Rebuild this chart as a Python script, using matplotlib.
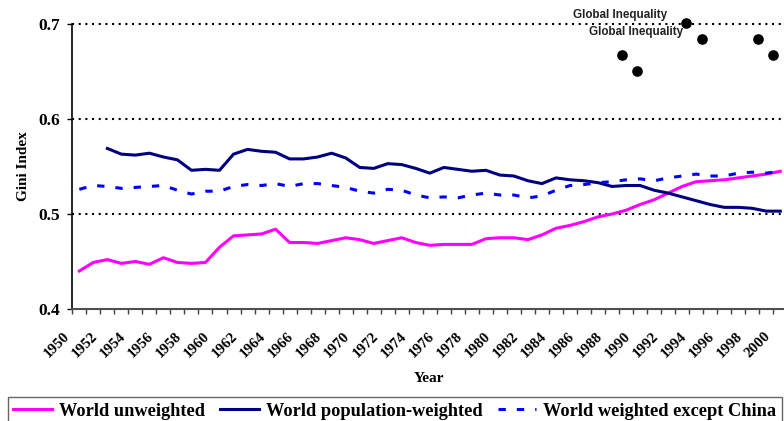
import matplotlib
matplotlib.use("Agg")
import matplotlib.pyplot as plt
import numpy as np

years = list(range(1950, 2001))

world_unweighted = [
    0.440, 0.449, 0.452, 0.448, 0.450, 0.447, 0.454, 0.449, 0.448, 0.449,
    0.465, 0.477, 0.478, 0.479, 0.484, 0.470, 0.470, 0.469, 0.472, 0.475,
    0.473, 0.469, 0.472, 0.475, 0.470, 0.467, 0.468, 0.468, 0.468, 0.474,
    0.475, 0.475, 0.473, 0.478, 0.485, 0.488, 0.492, 0.497, 0.500, 0.504,
    0.510, 0.515, 0.522, 0.529, 0.534, 0.535, 0.536, 0.538, 0.540, 0.542,
    0.545,
]

# no data before 1952
world_pop_weighted = [
    None, None, 0.569, 0.563, 0.562, 0.564, 0.560, 0.557, 0.546, 0.547,
    0.546, 0.563, 0.568, 0.566, 0.565, 0.558, 0.558, 0.560, 0.564, 0.559,
    0.549, 0.548, 0.553, 0.552, 0.548, 0.543, 0.549, 0.547, 0.545, 0.546,
    0.541, 0.540, 0.535, 0.532, 0.538, 0.536, 0.535, 0.533, 0.529, 0.530,
    0.530, 0.525, 0.522, 0.518, 0.514, 0.510, 0.507, 0.507, 0.506, 0.503,
    0.503,
]

world_except_china = [
    0.526, 0.530, 0.529, 0.527, 0.528, 0.529, 0.530, 0.525, 0.521, 0.524,
    0.524, 0.529, 0.531, 0.530, 0.532, 0.529, 0.532, 0.532, 0.530, 0.528,
    0.524, 0.522, 0.526, 0.525, 0.520, 0.517, 0.518, 0.517, 0.520, 0.522,
    0.520, 0.520, 0.517, 0.519, 0.525, 0.530, 0.531, 0.533, 0.534, 0.536,
    0.537, 0.535, 0.538, 0.540, 0.542, 0.540, 0.540, 0.543, 0.544, 0.543,
    0.545,
]

# two "Global Inequality" point series (secondary-axis style positions)
global_a_x = [1988.7, 1993.3, 1998.4]
global_a_y = [0.667, 0.701, 0.684]
global_b_x = [1989.8, 1994.4, 1999.5]
global_b_y = [0.651, 0.684, 0.667]

yticks = [0.4, 0.5, 0.6, 0.7]

serif = "Liberation Serif"
sans = "Liberation Sans"

fig = plt.figure(figsize=(7.84, 4.21), dpi=100)
ax = fig.add_axes([72.3 / 784, 112 / 421, 715 / 784, 285 / 421])

pos = np.arange(len(years))

def to_arr(vals):
    return np.array([np.nan if v is None else v for v in vals], dtype=float)

ax.plot(pos, to_arr(world_unweighted), color="#FF00FF", lw=2.2,
        label="World unweighted", solid_joinstyle="round")
ax.plot(pos, to_arr(world_pop_weighted), color="#000080", lw=2.2,
        label="World population-weighted", solid_joinstyle="round")
ax.plot(pos, to_arr(world_except_china), color="#0000FF", lw=2.2,
        linestyle=(0, (2.4, 3.6)), dash_capstyle="butt",
        label="World weighted except China")

ga = np.array(global_a_x) - years[0]
gb = np.array(global_b_x) - years[0]
ax.scatter(ga, global_a_y, s=44, color="black", zorder=5, clip_on=False)
ax.scatter(gb, global_b_y, s=44, color="black", zorder=5, clip_on=False)
for gx, gy in [(ga[1], global_a_y[1]), (gb[1], global_b_y[1])]:
    ax.annotate("Global Inequality", (gx, gy), xytext=(-13.7, 5.5),
                textcoords="offset points", ha="right", va="center",
                fontsize=8.4, fontweight="bold", family=sans,
                color="#222222", annotation_clip=False)

# dotted gridlines
for yv in yticks[1:]:
    ax.axhline(yv, color="black", lw=1.5, linestyle=(0, (1.0, 2.2)),
               clip_on=False, zorder=1)

ax.set_xlim(-0.5, len(years) - 0.5)
ax.set_ylim(0.4, 0.7)

ax.set_yticks(yticks)
ax.set_yticklabels([f"{v:.1f}" for v in yticks], fontsize=12.5,
                   fontweight="bold", family=serif)

bounds = np.arange(len(years) + 1) - 0.5
ax.set_xticks(bounds)
labels = [str(y) if (y - years[0]) % 2 == 0 else "" for y in years] + [""]
ax.set_xticklabels(labels, rotation=45, ha="right", fontsize=10.8,
                   fontweight="bold", family=serif)

ax.tick_params(axis="x", direction="out", length=3.5, width=1,
               color="#404040", pad=11.5)
ax.tick_params(axis="y", direction="out", length=3.5, width=1,
               color="black", pad=5.5)

for side in ["top", "right"]:
    ax.spines[side].set_visible(False)
ax.spines["left"].set_linewidth(1.2)
ax.spines["bottom"].set_linewidth(1.5)
ax.spines["bottom"].set_color("#505050")

fig.text(23.5 / 784, 1 - 166 / 421, "Gini Index", rotation=90, ha="center",
         va="center", fontsize=11, fontweight="bold", family=serif)
fig.text(429.5 / 784, 1 - 379 / 421, "Year", ha="center", va="center",
         fontsize=11, fontweight="bold", family=serif)

leg = fig.legend(loc="upper left", bbox_to_anchor=(8 / 784, 1 - 397 / 421),
                 ncol=3, frameon=True, fancybox=False, handlelength=2.1,
                 handletextpad=0.37, columnspacing=0.85, borderpad=0.3,
                 borderaxespad=0,
                 prop={"family": serif, "weight": "bold", "size": 13.2})
leg.get_frame().set_edgecolor("#404040")
leg.get_frame().set_linewidth(1.0)

fig.savefig("out.png", dpi=100)
